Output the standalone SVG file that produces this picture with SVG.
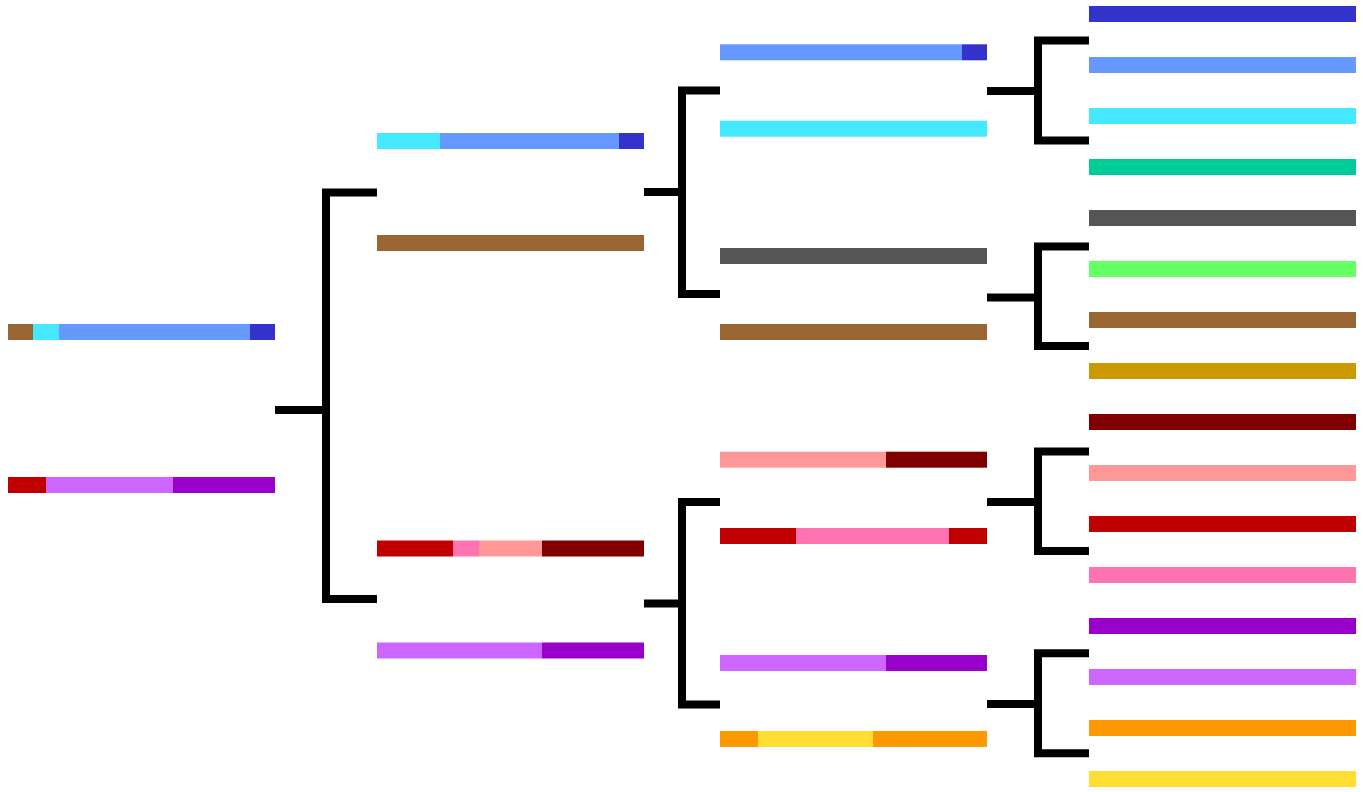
<svg xmlns="http://www.w3.org/2000/svg" width="1363" height="792" viewBox="0 0 1363 792">
<style>
.c{fill:none;stroke:#000;stroke-width:8;stroke-linejoin:miter;stroke-linecap:butt}
.db{fill:#3333CC}.lb{fill:#6699FF}.cy{fill:#44E8FF}.gr{fill:#00CC99}.gy{fill:#555555}.lg{fill:#66FF66}.br{fill:#996633}.go{fill:#CC9900}.dr{fill:#800000}.sa{fill:#FF9999}.rd{fill:#C00000}.pk{fill:#FF73B0}.pu{fill:#9900CC}.vi{fill:#CC66FF}.or{fill:#FF9900}.ye{fill:#FFDD33}
</style>
<rect width="1363" height="792" fill="#fff"/>
<g id="connectors">
<path class="c" d="M275,410 H326 M377,192.5 H326 V599 H377"/>
<path class="c" d="M644,192 H682 M720,90.5 H682 V294 H720"/>
<path class="c" d="M644,603.5 H682 M720,502 H682 V704.5 H720"/>
<path class="c" d="M987,91 H1038 M1089,40.5 H1038 V140.5 H1089"/>
<path class="c" d="M987,297.5 H1038 M1089,246.5 H1038 V346 H1089"/>
<path class="c" d="M987,502 H1038 M1089,451.5 H1038 V551 H1089"/>
<path class="c" d="M987,704 H1038 M1089,653.3 H1038 V753.3 H1089"/>
</g>
<g id="root-a"><rect class="br" x="8" y="324" width="25" height="16"/><rect class="cy" x="33" y="324" width="26" height="16"/><rect class="lb" x="59" y="324" width="191" height="16"/><rect class="db" x="250" y="324" width="25" height="16"/></g>
<g id="root-b"><rect class="rd" x="8" y="477" width="38" height="16"/><rect class="vi" x="46" y="477" width="127" height="16"/><rect class="pu" x="173" y="477" width="102" height="16"/></g>
<g id="l1-a"><rect class="cy" x="377" y="133" width="63" height="16"/><rect class="lb" x="440" y="133" width="179" height="16"/><rect class="db" x="619" y="133" width="25" height="16"/></g>
<g id="l1-b"><rect class="br" x="377" y="235" width="267" height="16"/></g>
<g id="l1-c"><rect class="rd" x="377" y="540.5" width="76" height="16"/><rect class="pk" x="453" y="540.5" width="26" height="16"/><rect class="sa" x="479" y="540.5" width="63" height="16"/><rect class="dr" x="542" y="540.5" width="102" height="16"/></g>
<g id="l1-d"><rect class="vi" x="377" y="642.5" width="165" height="16"/><rect class="pu" x="542" y="642.5" width="102" height="16"/></g>
<g id="l2-a"><rect class="lb" x="720" y="44.3" width="242" height="16"/><rect class="db" x="962" y="44.3" width="25" height="16"/></g>
<g id="l2-b"><rect class="cy" x="720" y="120.7" width="267" height="16"/></g>
<g id="l2-c"><rect class="gy" x="720" y="248" width="267" height="16"/></g>
<g id="l2-d"><rect class="br" x="720" y="324" width="267" height="16"/></g>
<g id="l2-e"><rect class="sa" x="720" y="451.7" width="166" height="16"/><rect class="dr" x="886" y="451.7" width="101" height="16"/></g>
<g id="l2-f"><rect class="rd" x="720" y="528" width="76" height="16"/><rect class="pk" x="796" y="528" width="153" height="16"/><rect class="rd" x="949" y="528" width="38" height="16"/></g>
<g id="l2-g"><rect class="vi" x="720" y="655" width="166" height="16"/><rect class="pu" x="886" y="655" width="101" height="16"/></g>
<g id="l2-h"><rect class="or" x="720" y="731" width="38" height="16"/><rect class="ye" x="758" y="731" width="115" height="16"/><rect class="or" x="873" y="731" width="114" height="16"/></g>
<g id="leaf-0"><rect class="db" x="1089" y="6" width="267" height="16"/></g>
<g id="leaf-1"><rect class="lb" x="1089" y="57" width="267" height="16"/></g>
<g id="leaf-2"><rect class="cy" x="1089" y="108" width="267" height="16"/></g>
<g id="leaf-3"><rect class="gr" x="1089" y="159" width="267" height="16"/></g>
<g id="leaf-4"><rect class="gy" x="1089" y="210" width="267" height="16"/></g>
<g id="leaf-5"><rect class="lg" x="1089" y="261" width="267" height="16"/></g>
<g id="leaf-6"><rect class="br" x="1089" y="312" width="267" height="16"/></g>
<g id="leaf-7"><rect class="go" x="1089" y="363" width="267" height="16"/></g>
<g id="leaf-8"><rect class="dr" x="1089" y="414" width="267" height="16"/></g>
<g id="leaf-9"><rect class="sa" x="1089" y="465" width="267" height="16"/></g>
<g id="leaf-10"><rect class="rd" x="1089" y="516" width="267" height="16"/></g>
<g id="leaf-11"><rect class="pk" x="1089" y="567" width="267" height="16"/></g>
<g id="leaf-12"><rect class="pu" x="1089" y="618" width="267" height="16"/></g>
<g id="leaf-13"><rect class="vi" x="1089" y="669" width="267" height="16"/></g>
<g id="leaf-14"><rect class="or" x="1089" y="720" width="267" height="16"/></g>
<g id="leaf-15"><rect class="ye" x="1089" y="771" width="267" height="16"/></g>
</svg>
